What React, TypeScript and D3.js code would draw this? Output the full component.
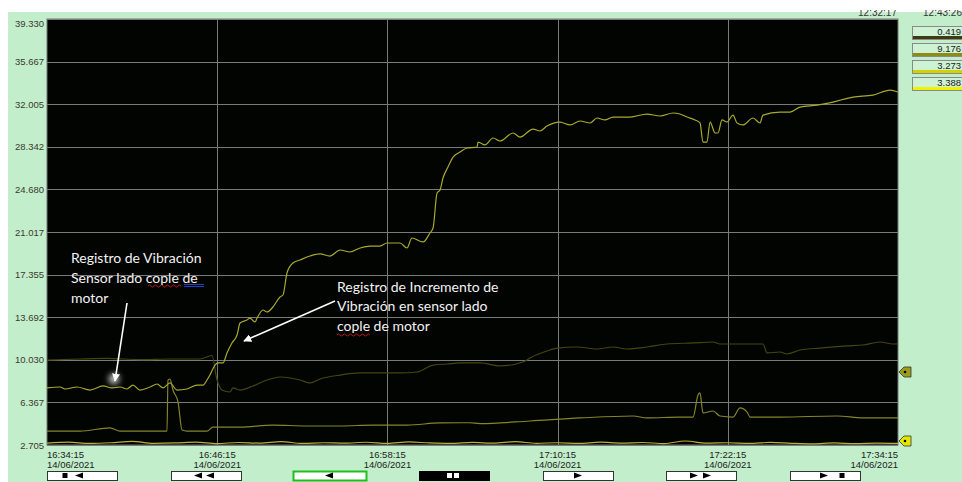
import * as d3 from 'd3'

// ---- data ----
const START = new Date(2021, 5, 14, 16, 34, 15)
const END = new Date(2021, 5, 14, 17, 34, 15)

const yTickLabels = ['2.705', '6.367', '10.030', '13.692', '17.355', '21.017', '24.680', '28.342', '32.005', '35.667', '39.330']
const xTickMinutes = [0, 12, 24, 36, 48, 60]

const legendValues = ['0.419', '9.176', '3.273', '3.388']
const legendColors = ['#3c3c10', '#8c8c14', '#d2d200', '#f2f200']

// sensor lado cople de motor (main trace)
const minutesA = [0, 0.92, 1.27, 2.12, 3.03, 3.95, 4.58, 5.15, 5.64, 6.06, 6.56, 7.26, 7.76, 8.18, 8.67, 9.17, 9.87, 10.58, 11.0, 11.28, 11.49, 11.85, 12.06, 12.41, 12.69, 13.04, 13.4, 13.61, 14.1, 14.31, 14.67, 14.81, 15.23, 15.51, 15.93, 16.43, 16.64, 16.92, 17.34, 17.84, 18.54, 19.25, 19.95, 20.66, 21.36, 22.07, 22.77, 23.48, 23.97, 24.89, 25.38, 25.73, 26.51, 27.0, 27.22, 27.5, 27.71, 27.92, 28.27, 28.63, 29.12, 29.61, 30.32, 30.39, 30.88, 31.45, 31.94, 32.86, 33.35, 34.27, 34.76, 35.25, 36.17, 36.88, 37.58, 38.29, 38.78, 39.34, 39.91, 41.11, 42.3, 43.22, 44.14, 44.63, 45.12, 45.69, 46.04, 46.25, 46.53, 46.75, 47.1, 47.31, 47.59, 47.94, 48.37, 48.65, 49.07, 49.78, 50.27, 50.48, 51.68, 52.39, 53.09, 54.29, 55.42, 56.83, 58.24, 59.44, 60]
const valuesA = [7.61, 7.69, 7.52, 7.69, 7.43, 7.78, 7.61, 7.69, 7.52, 7.86, 7.43, 7.69, 7.95, 7.61, 8.04, 7.43, 7.52, 7.86, 7.86, 8.29, 8.72, 9.58, 9.76, 9.76, 10.62, 11.48, 12.16, 13.19, 13.45, 13.62, 13.28, 13.62, 14.31, 14.14, 14.57, 15.43, 15.6, 17.49, 18.35, 18.61, 18.95, 19.13, 18.95, 19.47, 19.3, 19.64, 19.81, 19.81, 20.07, 20.07, 19.64, 20.5, 20.16, 20.93, 21.36, 24.37, 24.63, 25.66, 26.6, 27.46, 27.89, 28.24, 28.32, 28.75, 28.5, 29.1, 28.84, 29.53, 29.18, 29.87, 29.7, 30.13, 30.47, 30.22, 30.56, 30.39, 30.82, 30.65, 30.9, 30.9, 31.16, 30.99, 31.25, 31.16, 30.9, 30.65, 30.39, 28.75, 28.75, 30.47, 29.53, 29.53, 30.65, 30.47, 31.07, 30.39, 30.22, 30.82, 30.39, 31.07, 31.33, 31.33, 31.76, 31.93, 32.19, 32.62, 32.79, 33.22, 33.05]

const minutesB = [0, 2.33, 4.23, 6.56, 8.67, 10.79, 11.63, 11.99, 12.34, 12.9, 13.11, 13.61, 14.52, 15.51, 16.43, 17.84, 18.54, 19.25, 20.66, 22.07, 22.99, 23.97, 24.89, 26.09, 27.22, 28.2, 29.12, 30.04, 30.53, 31.94, 33.56, 34.05, 35.46, 35.96, 37.37, 38.78, 39.91, 40.89, 42.3, 43.71, 45.55, 46.96, 47.45, 48.86, 50.48, 50.77, 51.68, 52.17, 53.09, 54.5, 56.41, 57.53, 58.73, 59.65, 60]
const valuesB = [10.0, 10.1, 10.15, 10.05, 10.1, 10.1, 10.4, 8.29, 7.43, 7.26, 7.61, 7.43, 7.78, 8.29, 8.55, 8.29, 8.04, 8.38, 8.72, 8.9, 8.9, 8.9, 8.9, 8.98, 9.58, 9.67, 9.76, 9.76, 9.76, 9.5, 9.84, 10.19, 10.87, 11.04, 11.13, 10.96, 11.13, 10.96, 11.13, 11.39, 11.48, 11.56, 11.39, 11.39, 11.39, 10.62, 10.7, 10.53, 10.87, 11.04, 11.22, 11.3, 11.56, 11.39, 11.4]

const minutesC = [0, 2.33, 4.44, 5.15, 8.46, 8.53, 8.67, 8.88, 9.24, 9.52, 9.87, 11.28, 11.7, 13.61, 15.93, 18.33, 20.66, 22.99, 25.38, 27.71, 29.82, 30.53, 34.05, 37.58, 41.32, 42.3, 44.63, 45.55, 45.9, 46.04, 46.25, 46.96, 47.45, 48.37, 48.86, 49.36, 49.57, 51.68, 55.7, 57.53, 60]
const valuesC = [3.9, 3.9, 4.17, 3.9, 3.9, 8.29, 8.38, 7.43, 6.4, 3.99, 3.9, 3.9, 4.25, 4.25, 4.42, 4.34, 4.34, 4.42, 4.42, 4.6, 4.62, 4.55, 4.77, 5.03, 5.2, 5.03, 5.11, 5.11, 7.0, 7.18, 5.46, 5.63, 5.2, 5.11, 5.89, 5.54, 5.11, 5.11, 5.2, 5.03, 5.03]

const minutesD = [0, 1.5, 3, 4.5, 6, 7.5, 9, 10.5, 12, 13.5, 15, 16.5, 18, 19.5, 21, 22.5, 24, 25.5, 27, 28.5, 30, 31.5, 33, 34.5, 36, 37.5, 39, 40.5, 42, 43.5, 45, 46.5, 48, 49.5, 51, 52.5, 54, 55.5, 57, 58.5, 60]
const valuesD = [2.86, 2.95, 2.84, 2.9, 3.02, 2.85, 2.88, 2.96, 2.83, 2.92, 2.87, 3.0, 2.84, 2.9, 2.86, 2.94, 2.85, 2.97, 2.88, 2.84, 2.93, 2.86, 2.99, 2.85, 2.9, 2.84, 2.95, 2.87, 2.92, 2.83, 3.05, 2.86, 2.9, 2.84, 2.93, 2.85, 2.8, 2.88, 2.82, 2.86, 2.84]

const seriesColors = ['#a9a92c', '#45450f', '#85852a', '#b8b03a']

const BG = '#c3eecb'
const FONT = '"Liberation Sans", Arial, sans-serif'
const NOTE_FONT = 'Lato, "Open Sans", sans-serif'

const W = 962
const H = 482
const left = 47
const right = 898
const top = 19
const bottom = 445

const toDate = (m: number) => new Date(START.getTime() + m * 60000)

export default function App() {
  const x = d3.scaleTime().domain([START, END]).range([left, right])
  const y = d3.scaleLinear().domain([2.705, 39.33]).range([bottom, top])

  const line = d3.line<[number, number]>()
    .x(d => x(toDate(d[0])))
    .y(d => y(d[1]))
    .curve(d3.curveMonotoneX)

  const series = [
    { m: minutesD, v: valuesD, c: seriesColors[3] },
    { m: minutesC, v: valuesC, c: seriesColors[2] },
    { m: minutesB, v: valuesB, c: seriesColors[1] },
    { m: minutesA, v: valuesA, c: seriesColors[0] },
  ]

  const fmtTime = d3.timeFormat('%H:%M:%S')
  const fmtDate = d3.timeFormat('%d/%m/%Y')

  const triL = (cx: number, cy: number) => `M${cx - 4},${cy} L${cx + 4},${cy - 3} L${cx + 4},${cy + 3} Z`
  const triR = (cx: number, cy: number) => `M${cx + 4},${cy} L${cx - 4},${cy - 3} L${cx - 4},${cy + 3} Z`
  const sq = (cx: number, cy: number) => `M${cx - 2.5},${cy - 2.5} h5 v5 h-5 Z`

  const by = 471
  const bh = 9
  const bc = by + bh / 2
  const buttons = [
    { x0: 47, x1: 117, icons: [sq(65, bc), triL(79, bc)], fill: '#fff', stroke: '#333', sw: 1, ic: '#000' },
    { x0: 171, x1: 241, icons: [triL(198, bc), triL(210, bc)], fill: '#fff', stroke: '#333', sw: 1, ic: '#000' },
    { x0: 293, x1: 366, icons: [triL(329, bc)], fill: '#fff', stroke: '#1fbf1f', sw: 2, ic: '#000' },
    { x0: 419, x1: 489, icons: [sq(449.5, bc), sq(456.5, bc)], fill: '#000', stroke: '#000', sw: 1, ic: '#fff' },
    { x0: 543, x1: 613, icons: [triR(578, bc)], fill: '#fff', stroke: '#333', sw: 1, ic: '#000' },
    { x0: 666, x1: 736, icons: [triR(694, bc), triR(707, bc)], fill: '#fff', stroke: '#333', sw: 1, ic: '#000' },
    { x0: 790, x1: 860, icons: [triR(824, bc), sq(842, bc)], fill: '#fff', stroke: '#333', sw: 1, ic: '#000' },
  ]

  const marker = (my: number) => `M899,${my} L904,${my - 5} L911,${my - 5} L911,${my + 5} L904,${my + 5} Z`

  return (
    <svg width={W} height={H} style={{ position: 'absolute', left: 0, top: 0, background: '#fff' }}>
      <defs>
        <clipPath id="plot"><rect x={left} y={top} width={right - left} height={bottom - top} /></clipPath>
        <clipPath id="topclip"><rect x={0} y={10} width={W} height={H} /></clipPath>
        <filter id="glow" x="-2" y="-2" width="5" height="5"><feGaussianBlur stdDeviation="3" /></filter>
        <marker id="head" viewBox="0 0 10 10" refX="9" refY="5" markerWidth="5" markerHeight="5" orient="auto">
          <path d="M0,0 L10,5 L0,10 Z" fill="#fff" />
        </marker>
      </defs>

      <rect x={8} y={12} width={W - 8} height={H - 12} fill={BG} />

      {/* clipped time header */}
      <g clipPath="url(#topclip)" fontFamily={FONT} fontSize={10} fill="#333">
        <text x={897} y={16} textAnchor="end">12:32:17</text>
        <text x={962} y={16} textAnchor="end">12:43:26</text>
      </g>

      <rect x={left} y={top} width={right - left} height={bottom - top} fill="#020402" stroke="#777" strokeWidth={1} />

      {/* grid */}
      {yTickLabels.map(t => (
        <line key={t} x1={left} x2={right} y1={Math.round(y(+t)) + 0.5} y2={Math.round(y(+t)) + 0.5} stroke="#7a7a7a" strokeWidth={1} />
      ))}
      {xTickMinutes.slice(1, -1).map(m => (
        <line key={m} x1={Math.round(x(toDate(m))) + 0.5} x2={Math.round(x(toDate(m))) + 0.5} y1={top} y2={bottom} stroke="#7a7a7a" strokeWidth={1} />
      ))}

      {/* traces */}
      <g clipPath="url(#plot)" fill="none">
        {series.map((s, i) => (
          <path key={i} d={line(s.m.map((m, j) => [m, s.v[j]] as [number, number])) || ''} stroke={s.c} strokeWidth={1.2} />
        ))}
      </g>

      {/* y labels */}
      <g fontFamily={FONT} fontSize={9.5} fill="#3a3a30" textAnchor="end">
        {yTickLabels.map(t => (
          <text key={t} x={44} y={Math.max(y(+t), 23) + 3.5}>{t}</text>
        ))}
      </g>

      {/* x labels */}
      <g fontFamily={FONT} fontSize={9.5} fill="#222">
        {xTickMinutes.map((m, i) => {
          const anchor = i === 0 ? 'start' : i === xTickMinutes.length - 1 ? 'end' : 'middle'
          const d = toDate(m)
          return (
            <g key={m}>
              <text x={x(d)} y={458} textAnchor={anchor}>{fmtTime(d)}</text>
              <text x={x(d)} y={468} textAnchor={anchor}>{fmtDate(d)}</text>
            </g>
          )
        })}
      </g>

      {/* buttons */}
      {buttons.map((b, i) => (
        <g key={i}>
          <rect x={b.x0 + 0.5} y={by + 0.5} width={b.x1 - b.x0} height={bh} fill={b.fill} stroke={b.stroke} strokeWidth={b.sw} />
          {b.icons.map((p, j) => <path key={j} d={p} fill={b.ic} />)}
        </g>
      ))}

      {/* legend boxes */}
      {legendValues.map((v, i) => {
        const ly = 26 + i * 17
        return (
          <g key={v}>
            <rect x={912.5} y={ly + 0.5} width={60} height={13} fill="#cdf2d4" stroke="#8a8a8a" />
            <rect x={913} y={ly + 10} width={60} height={3} fill={legendColors[i]} />
            <text x={961} y={ly + 9} textAnchor="end" fontFamily={FONT} fontSize={9.5} fill="#222">{v}</text>
          </g>
        )
      })}

      {/* right-side scale markers */}
      <path d={marker(372)} fill="#9c9c1c" stroke="#333" strokeWidth={0.8} />
      <circle cx={905} cy={372} r={1.3} fill="#000" />
      <path d={marker(441)} fill="#e6e600" stroke="#333" strokeWidth={0.8} />
      <circle cx={905} cy={441} r={1.3} fill="#000" />

      {/* annotations */}
      <g fontFamily={NOTE_FONT} fontSize={14} fill="#f2f2f2">
        <text x={71} y={263}>Registro de Vibración</text>
        <text x={71} y={283}>Sensor lado cople  de</text>
        <text x={71} y={303}>motor</text>
        <text x={337} y={292}>Registro de Incremento de</text>
        <text x={337} y={311}>Vibración en sensor lado</text>
        <text x={337} y={331}>cople de motor</text>
      </g>
      <path d="M148,286 q1.5,-2 3,0 t3,0 t3,0 t3,0 t3,0 t3,0 t3,0 t3,0 t3,0 t3,0 t3,0" fill="none" stroke="#e02020" strokeWidth={0.8} />
      <line x1={184} x2={204} y1={284.5} y2={284.5} stroke="#2040c0" strokeWidth={1} />
      <line x1={184} x2={204} y1={286.5} y2={286.5} stroke="#2040c0" strokeWidth={1} />
      <path d="M337,335 q1.5,-2 3,0 t3,0 t3,0 t3,0 t3,0 t3,0 t3,0 t3,0 t3,0 t3,0 t3,0" fill="none" stroke="#e02020" strokeWidth={0.8} />

      <circle cx={114} cy={379} r={5} fill="#fff" filter="url(#glow)" opacity={0.9} />
      <line x1={127} y1={303} x2={115} y2={381} stroke="#fff" strokeWidth={1.6} markerEnd="url(#head)" />
      <line x1={335} y1={301} x2={244} y2={341} stroke="#fff" strokeWidth={1.6} markerEnd="url(#head)" />
    </svg>
  )
}
